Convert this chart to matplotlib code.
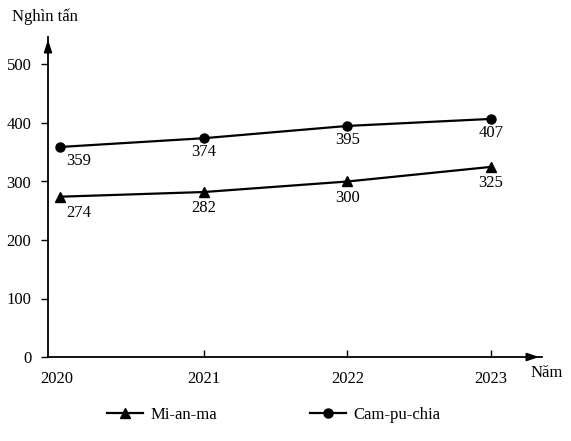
import matplotlib
matplotlib.use("Agg")
import matplotlib.pyplot as plt
import matplotlib.transforms as mtransforms
from matplotlib.lines import Line2D

years = [2020, 2021, 2022, 2023]
mianma = [274, 282, 300, 325]
campuchia = [359, 374, 395, 407]
yticks = [0, 100, 200, 300, 400, 500]

plt.rcParams['font.family'] = ['Liberation Serif', 'DejaVu Serif']
plt.rcParams['font.size'] = 12

W, H = 571, 441
fig = plt.figure(figsize=(W/100, H/100), dpi=100)
L, R, B, T = 48, 542, 357, 37
ax = fig.add_axes([L/W, 1 - B/H, (R-L)/W, (B-T)/H])

px_per_year = 144
ax.set_xlim(2020 - 12/px_per_year, 2023 + 51/px_per_year)
ax.set_ylim(0, (B - T)/0.585)

for s in ['top', 'right']:
    ax.spines[s].set_visible(False)
for s in ['left', 'bottom']:
    ax.spines[s].set_linewidth(1.3)

ax.set_xticks(years)
ax.set_xticklabels([str(y) for y in years])
ax.set_yticks(yticks)
ax.tick_params(axis='x', direction='in', length=5, width=1, pad=10, labelsize=12)
ax.tick_params(axis='y', direction='out', length=5, width=1, pad=7, labelsize=12)

# hide the tick at 2020 and nudge its label left
fig.canvas.draw()
t0 = ax.xaxis.get_major_ticks()[0]
t0.tick1line.set_visible(False)
t0.label1.set_transform(t0.label1.get_transform() +
                        mtransforms.ScaledTranslation(-3/100, 0, fig.dpi_scale_trans))

# axis arrows
ax.annotate('', xy=(1.0, 0), xytext=(0.97, 0), xycoords='axes fraction',
            arrowprops=dict(arrowstyle='-|>,head_length=0.6,head_width=0.2', color='black', lw=1.3))
ax.annotate('', xy=(0, 1.0), xytext=(0, 0.96), xycoords='axes fraction',
            arrowprops=dict(arrowstyle='-|>,head_length=0.6,head_width=0.2', color='black', lw=1.3))

ax.plot(years, mianma, color='black', lw=1.6, marker='^', markersize=7, clip_on=False)
ax.plot(years, campuchia, color='black', lw=1.6, marker='o', markersize=6.5, clip_on=False)

for i, (x, y) in enumerate(zip(years, campuchia)):
    dx = 19 if i == 0 else 0
    ax.annotate(str(y), (x, y), xytext=(dx, -14), textcoords='offset pixels',
                ha='center', va='center', fontsize=12)
for i, (x, y) in enumerate(zip(years, mianma)):
    dx = 19 if i == 0 else 0
    ax.annotate(str(y), (x, y), xytext=(dx, -16), textcoords='offset pixels',
                ha='center', va='center', fontsize=12)

fig.text(12/W, 1 - 17/H, 'Nghìn tấn', ha='left', va='center', fontsize=12)
fig.text(547/W, 1 - 373/H, 'Năm', ha='center', va='center', fontsize=12)

h1 = Line2D([], [], color='black', lw=1.6, marker='^', markersize=7)
h2 = Line2D([], [], color='black', lw=1.6, marker='o', markersize=6.5)
kw = dict(frameon=False, borderpad=0, borderaxespad=0, handlelength=2.15,
          handletextpad=0.45, fontsize=12, loc='center left')
fig.legend([h1], ['Mi-an-ma'], bbox_to_anchor=(107/W, 1 - 415/H), **kw)
fig.legend([h2], ['Cam-pu-chia'], bbox_to_anchor=(310/W, 1 - 415/H), **kw)

fig.savefig('out.png', dpi=100)
